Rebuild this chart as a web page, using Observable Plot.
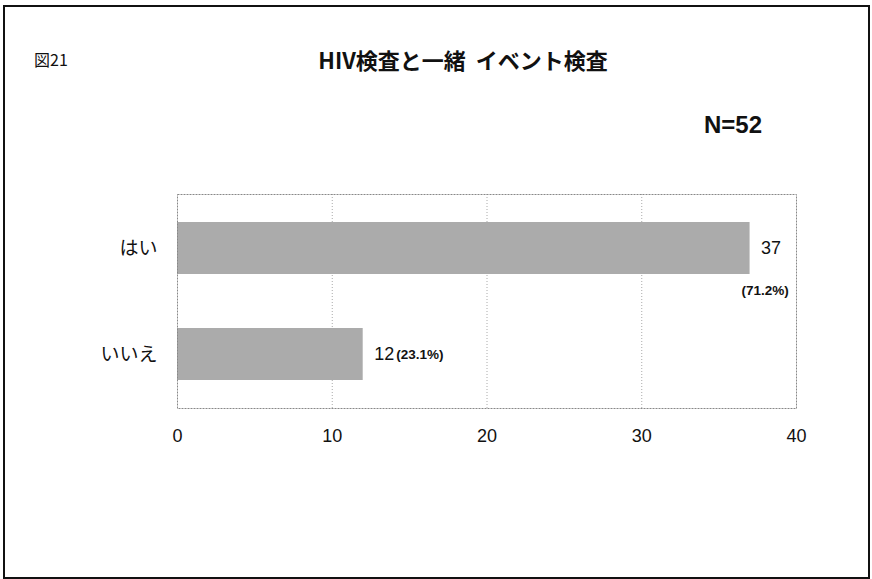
<!DOCTYPE html>
<html>
<head>
<meta charset="utf-8">
<script src="https://cdn.jsdelivr.net/npm/d3@7"></script>
<script src="https://cdn.jsdelivr.net/npm/@observablehq/plot@0.6"></script>
<style>
  html, body { margin: 0; padding: 0; background: #fff; }
  #wrap { position: relative; width: 872px; height: 579px; overflow: hidden; font-family: "Noto Sans CJK JP", "Noto Sans", sans-serif; }
  #frame { position: absolute; left: 3px; top: 5px; width: 863px; height: 570px; border: 2px solid #111; box-sizing: content-box; pointer-events: none; }
  .t { position: absolute; color: #111; white-space: nowrap; }
  #fig { left: 34px; top: 47px; font-size: 16px; }
  #title { left: 0; width: 926px; text-align: center; top: 43px; font-size: 22px; font-weight: bold; }
  #n { left: 704px; top: 111px; font-size: 24px; font-weight: bold; font-family: "Liberation Sans", Arial, sans-serif; }
  #chart { position: absolute; left: 0; top: 0; }
</style>
</head>
<body>
<div id="wrap">
  <div id="chart"></div>
  <div class="t" id="fig">図21</div>
  <div class="t" id="title">HIV検査と一緒&nbsp;&nbsp;イベント検査</div>
  <div class="t" id="n">N=52</div>
  <div id="frame"></div>
</div>
<script>
const categories = ["はい", "いいえ"];
const counts = [37, 12];
const percents = ["(71.2%)", "(23.1%)"];
const xTicks = [0, 10, 20, 30, 40];

const data = categories.map((c, i) => ({cat: c, n: counts[i], pct: percents[i]}));

const chart = Plot.plot({
  width: 872,
  height: 579,
  marginLeft: 177,
  marginRight: 76,
  marginTop: 194,
  marginBottom: 171,
  style: {fontFamily: "'Noto Sans CJK JP', sans-serif", background: "transparent", color: "#111"},
  x: {domain: [0, 40], ticks: xTicks, tickSize: 0, tickPadding: 21, label: null, tickFormat: d3.format("d")},
  y: {domain: categories, paddingInner: 0.512, paddingOuter: 0.263, tickSize: 0, tickPadding: 20, label: null},
  marks: [
    Plot.gridX(xTicks.slice(1, -1), {stroke: "#aaa", strokeOpacity: 1, strokeDasharray: "1,2"}),
    Plot.barX(data, {y: "cat", x: "n", fill: "#ababab"}),
    Plot.frame({stroke: "#888", strokeDasharray: "2,1"}),
    Plot.axisX({ticks: xTicks, tickSize: 0, tickPadding: 21, fontSize: 18, fontFamily: "'Liberation Sans', Arial, sans-serif", tickFormat: d3.format("d")}),
    Plot.axisY({tickSize: 0, tickPadding: 20, fontSize: 19}),
    Plot.text(data, {y: "cat", x: "n", text: d => String(d.n), dx: 11, textAnchor: "start", fontSize: 18, fontFamily: "'Liberation Sans', Arial, sans-serif"}),
    Plot.text(data.filter(d => d.cat === "はい"), {y: "cat", x: "n", text: "pct", dx: 15, dy: 42, textAnchor: "middle", fontSize: 13.5, fontWeight: "bold", fontFamily: "'Liberation Sans', Arial, sans-serif"}),
    Plot.text(data.filter(d => d.cat !== "はい"), {y: "cat", x: "n", text: "pct", dx: 33, textAnchor: "start", fontSize: 13.5, fontWeight: "bold", fontFamily: "'Liberation Sans', Arial, sans-serif"})
  ]
});
document.getElementById("chart").appendChild(chart);
</script>
</body>
</html>
